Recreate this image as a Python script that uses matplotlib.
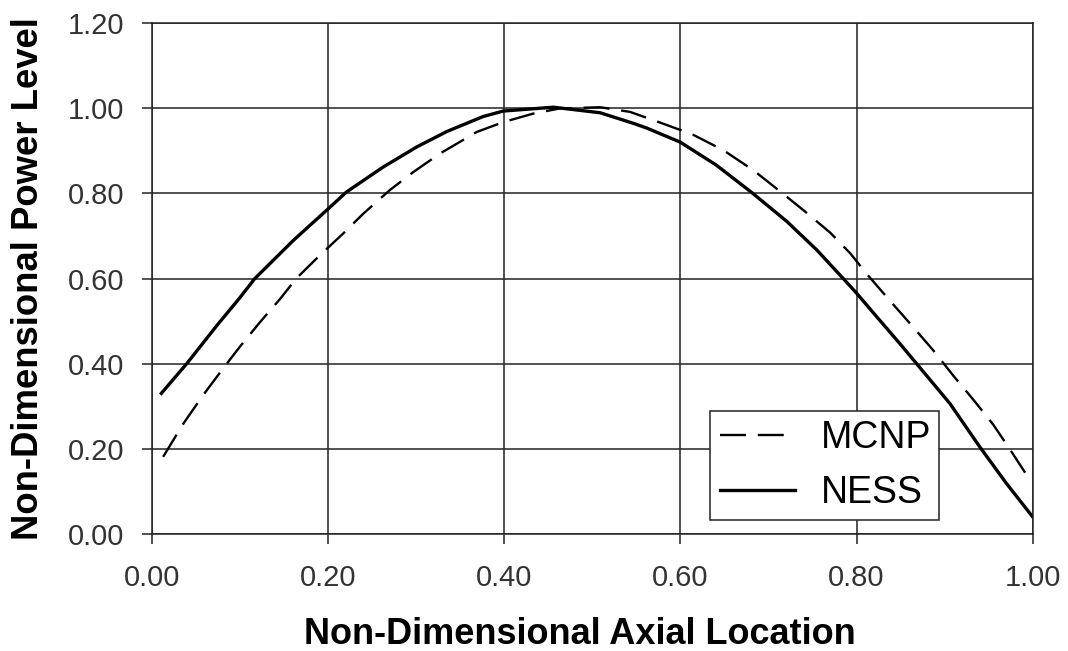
import matplotlib
matplotlib.use("Agg")
import matplotlib.pyplot as plt

# values
mcnp_x = [0.013, 0.036, 0.0585, 0.0795, 0.100, 0.123, 0.146, 0.164, 0.191, 0.2175,
          0.240, 0.2705, 0.297, 0.327, 0.369, 0.399, 0.433, 0.463, 0.509, 0.543,
          0.577, 0.614, 0.649, 0.683, 0.713, 0.740, 0.770, 0.793, 0.812, 0.838,
          0.864, 0.887, 0.910, 0.933, 0.955, 0.974, 0.997]
mcnp_y = [0.182, 0.260, 0.327, 0.385, 0.440, 0.498, 0.553, 0.600, 0.655, 0.706,
          0.752, 0.808, 0.850, 0.893, 0.944, 0.967, 0.987, 0.999, 1.002, 0.991,
          0.966, 0.938, 0.901, 0.854, 0.805, 0.760, 0.708, 0.659, 0.610, 0.548,
          0.487, 0.432, 0.372, 0.315, 0.258, 0.200, 0.127]

ness_x = [0.011, 0.040, 0.074, 0.100, 0.117, 0.161, 0.2005, 0.221, 0.263, 0.301,
          0.335, 0.376, 0.399, 0.456, 0.509, 0.547, 0.562, 0.600, 0.641, 0.681,
          0.721, 0.755, 0.785, 0.800, 0.819, 0.849, 0.868, 0.906, 0.940, 0.970, 1.000]
ness_y = [0.331, 0.401, 0.490, 0.555, 0.600, 0.690, 0.764, 0.803, 0.862, 0.909,
          0.945, 0.980, 0.993, 1.002, 0.989, 0.964, 0.953, 0.920, 0.866, 0.802,
          0.734, 0.667, 0.600, 0.566, 0.520, 0.448, 0.401, 0.307, 0.205, 0.120, 0.041]

x_ticks = [0.0, 0.2, 0.4, 0.6, 0.8, 1.0]
y_ticks = [0.0, 0.2, 0.4, 0.6, 0.8, 1.0, 1.2]

plt.rcParams["font.family"] = ["Liberation Sans", "DejaVu Sans"]

fig = plt.figure(figsize=(10.68, 6.51), dpi=100)
ax = fig.add_axes([0.142, 0.179, 0.825, 0.786])

ax.plot(mcnp_x, mcnp_y, color="black", lw=1.7, dashes=(11, 5), label="MCNP")
ax.plot(ness_x, ness_y, color="black", lw=2.4, label="NESS")

ax.set_xlim(0, 1.0)
ax.set_ylim(0, 1.2)
ax.set_xticks(x_ticks)
ax.set_yticks(y_ticks)
ax.set_xticklabels([f"{v:.2f}" for v in x_ticks])
ax.set_yticklabels([f"{v:.2f}" for v in y_ticks])
ax.grid(True, color="#222222", lw=1.1)
ax.set_axisbelow(True)
for sp in ax.spines.values():
    sp.set_color("#222222")
    sp.set_linewidth(1.1)
ax.tick_params(direction="out", length=7, width=1.1, color="#222222",
               labelsize=21, labelcolor="#333333")
ax.tick_params(axis="y", pad=12.5)
ax.tick_params(axis="x", pad=14)

ax.set_xlabel("Non-Dimensional Axial Location", fontsize=26, fontweight="bold")
ax.set_ylabel("Non-Dimensional Power Level", fontsize=26.3, fontweight="bold")
ax.xaxis.set_label_coords(0.486, -0.162)
ax.yaxis.set_label_coords(-0.12, 0.5)

leg = ax.legend(loc="lower left", bbox_to_anchor=(0.634, 0.028, 0.26, 0.209), mode="expand",
                fontsize=27, frameon=True, fancybox=False, handlelength=2.0,
                handletextpad=0.7, borderaxespad=0, borderpad=0.25, labelspacing=0.5)
leg.get_frame().set_edgecolor("#222222")
leg.get_frame().set_linewidth(1.1)
leg.get_frame().set_alpha(1)

fig.savefig("out.png", dpi=100)
